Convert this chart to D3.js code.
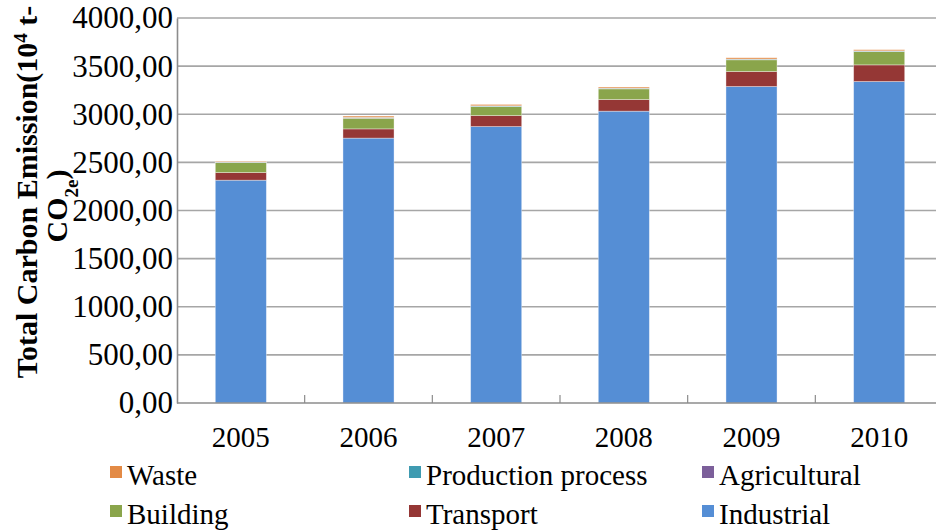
<!DOCTYPE html>
<html>
<head>
<meta charset="utf-8">
<script src="https://cdn.jsdelivr.net/npm/d3@7"></script>
<style>
  html, body { margin: 0; padding: 0; background: #fff; }
  svg { display: block; }
</style>
</head>
<body>
<svg id="chart" width="936" height="530"></svg>
<script>
// Carbon emission by sector, 10^4 t CO2e
const years = ["2005", "2006", "2007", "2008", "2009", "2010"];
const industrial = [2315, 2752, 2872, 3032, 3288, 3340];
const transport = [79, 96, 114, 121, 156, 173];
const building = [104, 111, 94, 111, 122, 139];
const agricultural = [2, 2, 2, 2, 2, 2];
const productionProcess = [3, 6, 6, 5, 5, 5];
const waste = [8, 14, 14, 12, 14, 12];
const yTicks = [0, 500, 1000, 1500, 2000, 2500, 3000, 3500, 4000];

const sectors = [
  { key: "Industrial", values: industrial, color: "#558ed5" },
  { key: "Transport", values: transport, color: "#953735" },
  { key: "Building", values: building, color: "#8aa54b" },
  { key: "Agricultural", values: agricultural, color: "#7c5f9a" },
  { key: "Production process", values: productionProcess, color: "#3f9bb1" },
  { key: "Waste", values: waste, color: "#e38a45" }
];

const rows = years.map((y, i) => {
  const r = { year: y };
  sectors.forEach(s => { r[s.key] = s.values[i]; });
  return r;
});

const FONT = "Liberation Serif";
const fontSize = 29;
const yTickFontSize = 31;
const svg = d3.select("#chart");
const plotLeft = 177, plotTop = 18, plotBottom = 403, plotRight = 943;

const x = d3.scaleBand().domain(years).range([plotLeft, plotRight]).paddingInner(0.6).paddingOuter(0.3);
const xCat = d3.scaleBand().domain(years).range([plotLeft, plotRight]);
const y = d3.scaleLinear().domain([0, 4000]).range([plotBottom, plotTop]);

// horizontal gridlines
svg.append("g")
  .selectAll("line")
  .data(yTicks.filter(t => t > 0))
  .join("line")
  .attr("x1", plotLeft).attr("x2", 936)
  .attr("y1", d => y(d)).attr("y2", d => y(d))
  .attr("stroke", "#a6a6a6").attr("stroke-width", 1.6);

// stacked bars
const stack = d3.stack().keys(sectors.map(s => s.key));
const series = stack(rows);
const color = d3.scaleOrdinal().domain(sectors.map(s => s.key)).range(sectors.map(s => s.color));

svg.append("g")
  .selectAll("g")
  .data(series)
  .join("g")
  .attr("fill", d => color(d.key))
  .selectAll("rect")
  .data(d => d)
  .join("rect")
  .attr("x", d => x(d.data.year))
  .attr("width", x.bandwidth())
  .attr("y", d => y(d[1]))
  .attr("height", d => y(d[0]) - y(d[1]))
  .attr("stroke", "rgba(255,255,255,0.45)")
  .attr("stroke-width", 0.8);

// y axis
const yAxis = d3.axisLeft(y).tickValues(yTicks).tickSize(0).tickPadding(4)
  .tickFormat(d => d3.format(".2f")(d).replace(".", ","));
const gy = svg.append("g").attr("transform", `translate(${plotLeft},0)`).call(yAxis);
gy.attr("font-family", FONT).attr("font-size", yTickFontSize);
gy.select(".domain").attr("stroke", "#8c8c8c").attr("stroke-width", 1.6);
gy.selectAll("text").attr("font-family", FONT).attr("font-size", yTickFontSize).attr("fill", "#000");

// x axis with category-boundary ticks
const gx = svg.append("g").attr("transform", `translate(0,${plotBottom})`);
gx.append("line").attr("x1", plotLeft).attr("x2", 936).attr("y1", 0).attr("y2", 0)
  .attr("stroke", "#8c8c8c").attr("stroke-width", 1.6);
gx.selectAll("line.tick")
  .data(years.slice(1))
  .join("line")
  .attr("class", "tick")
  .attr("x1", d => xCat(d)).attr("x2", d => xCat(d))
  .attr("y1", 0).attr("y2", -8)
  .attr("stroke", "#8c8c8c").attr("stroke-width", 1.2);
gx.selectAll("text")
  .data(years)
  .join("text")
  .attr("x", d => xCat(d) + xCat.bandwidth() / 2)
  .attr("y", 44)
  .attr("text-anchor", "middle")
  .attr("font-family", FONT)
  .attr("font-size", fontSize)
  .text(d => d);

// y axis title, wrapped onto two lines
const title = svg.append("g").attr("transform", "translate(37,192) rotate(-90)")
  .attr("font-family", FONT).attr("font-weight", "bold");
const t1 = title.append("text").attr("text-anchor", "middle").attr("font-size", 30);
t1.append("tspan").text("Total Carbon Emission(10");
t1.append("tspan").attr("baseline-shift", "super").attr("font-size", 19).text("4");
t1.append("tspan").text(" t-");
const t2 = title.append("text").attr("text-anchor", "middle").attr("x", -14).attr("y", 30).attr("font-size", 30);
t2.append("tspan").text("CO");
t2.append("tspan").attr("baseline-shift", "sub").attr("font-size", 19).text("2e");
t2.append("tspan").text(")");

// legend
const legendItems = [
  { key: "Waste", col: 0, row: 0 },
  { key: "Production process", col: 1, row: 0 },
  { key: "Agricultural", col: 2, row: 0 },
  { key: "Building", col: 0, row: 1 },
  { key: "Transport", col: 1, row: 1 },
  { key: "Industrial", col: 2, row: 1 }
];
const colX = [110, 409, 702];
const rowY = [475, 514];
const lg = svg.append("g").selectAll("g").data(legendItems).join("g")
  .attr("transform", d => `translate(${colX[d.col]},${rowY[d.row]})`);
lg.append("rect").attr("x", 0).attr("y", -9).attr("width", 12).attr("height", 12)
  .attr("fill", d => color(d.key));
lg.append("text").attr("x", 17).attr("y", 0).attr("dy", "0.35em")
  .attr("font-family", FONT).attr("font-size", fontSize).text(d => d.key);
</script>
</body>
</html>
